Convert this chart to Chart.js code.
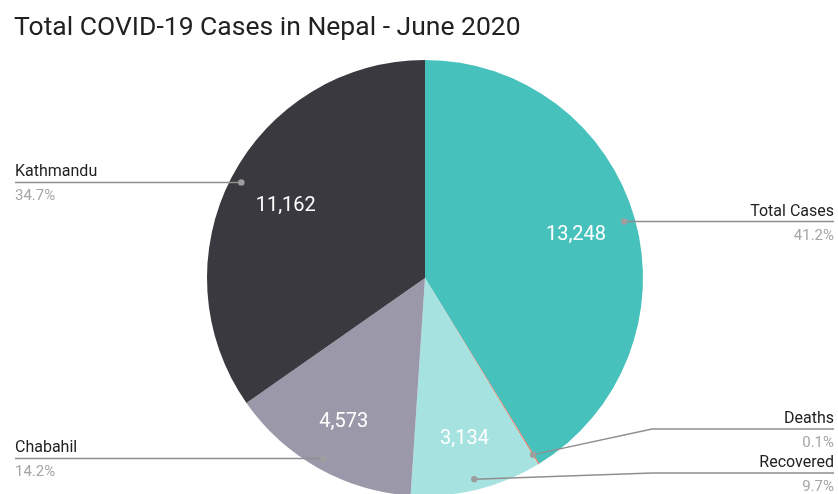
<!DOCTYPE html>
<html>
<head>
<meta charset="utf-8">
<script src="https://cdn.jsdelivr.net/npm/chart.js@4/dist/chart.umd.min.js"></script>
<style>
    html, body { margin: 0; padding: 0; background: #fff; overflow: hidden; }
    #wrap { position: absolute; left: 0; top: 0; width: 838px; height: 520px; }
</style>
</head>
<body>
<div id="wrap"><canvas id="pieChart" width="838" height="520"></canvas></div>
<script>
// Chart data
const categories = ['Total Cases', 'Deaths', 'Recovered', 'Chabahil', 'Kathmandu'];
const caseCounts = [13248, 29, 3134, 4573, 11162];
const sliceColors = ['#47c1bc', '#e6735f', '#a6e2df', '#9b98aa', '#3a393f'];

const chartTitle = 'Total COVID-19 Cases in Nepal - June 2020';
const fontFamily = 'Roboto, "Noto Sans", sans-serif';

// Title + slice labels + leader lines, drawn after the arcs
const labelPlugin = {
    id: 'sliceLabels',
    afterDatasetsDraw(chart) {
        const ctx = chart.ctx;
        const arcs = chart.getDatasetMeta(0).data;
        const total = caseCounts.reduce((a, b) => a + b, 0);

        ctx.save();

        // Title
        ctx.fillStyle = '#212121';
        ctx.font = '26.5px ' + fontFamily;
        ctx.textAlign = 'left';
        ctx.textBaseline = 'alphabetic';
        ctx.fillText(chartTitle, 14, 35);

        const outer = [];
        arcs.forEach((arc, i) => {
            const p = arc.getProps(['x', 'y', 'startAngle', 'endAngle', 'outerRadius'], true);
            const mid = (p.startAngle + p.endAngle) / 2;
            const share = caseCounts[i] / total;

            // value inside the slice (skip tiny slices)
            if (share > 0.05) {
                const r = p.outerRadius * (share < 0.2 ? 0.76 : 0.72);
                ctx.fillStyle = '#ffffff';
                ctx.font = '20px ' + fontFamily;
                ctx.textAlign = 'center';
                ctx.textBaseline = 'middle';
                ctx.fillText(caseCounts[i].toLocaleString('en-US'),
                    p.x + Math.cos(mid) * r, p.y + Math.sin(mid) * r);
            }

            const dr = p.outerRadius * 0.95;
            outer.push({
                i: i,
                cx: p.x,
                R: p.outerRadius,
                right: Math.cos(mid) >= 0,
                dotX: p.x + Math.cos(mid) * dr,
                dotY: p.y + Math.sin(mid) * dr,
                lineY: p.y + Math.sin(mid) * dr,
                pct: (share * 100).toFixed(1) + '%'
            });
        });

        // keep outside labels apart and inside the canvas
        const gap = 44;
        const maxY = 473;
        [true, false].forEach(side => {
            const group = outer.filter(o => o.right === side).sort((a, b) => b.lineY - a.lineY);
            let limit = maxY;
            group.forEach(o => {
                o.lineY = Math.min(o.lineY, limit);
                limit = o.lineY - gap;
            });
        });

        outer.forEach(o => {
            const edgeX = o.right ? 834 : 15;
            const elbowX = o.right ? o.cx + o.R + 9 : o.cx - o.R - 9;

            ctx.strokeStyle = '#8f8f8f';
            ctx.lineWidth = 1.5;
            ctx.beginPath();
            ctx.moveTo(o.dotX, o.dotY);
            if (Math.abs(o.lineY - o.dotY) > 0.5) {
                ctx.lineTo(elbowX, o.lineY);
            }
            ctx.lineTo(edgeX, o.lineY);
            ctx.stroke();

            ctx.fillStyle = '#9e9e9e';
            ctx.beginPath();
            ctx.arc(o.dotX, o.dotY, 3.2, 0, Math.PI * 2);
            ctx.fill();

            ctx.textAlign = o.right ? 'right' : 'left';
            ctx.textBaseline = 'alphabetic';
            ctx.fillStyle = '#212121';
            ctx.font = '16px ' + fontFamily;
            ctx.fillText(categories[o.i], edgeX, o.lineY - 6);
            ctx.fillStyle = '#a5a5a5';
            ctx.font = '15px ' + fontFamily;
            ctx.fillText(o.pct, edgeX, o.lineY + 18);
        });

        ctx.restore();
    }
};

new Chart(document.getElementById('pieChart'), {
    type: 'pie',
    data: {
        labels: categories,
        datasets: [{
            data: caseCounts,
            backgroundColor: sliceColors,
            borderWidth: 0,
            hoverOffset: 0,
            offset: 0
        }]
    },
    options: {
        responsive: false,
        animation: false,
        events: [],
        layout: {
            padding: { top: 60, bottom: 24, left: 12, right: 0 }
        },
        plugins: {
            legend: { display: false },
            title: { display: false },
            tooltip: { enabled: false }
        }
    },
    plugins: [labelPlugin]
});
</script>
</body>
</html>
